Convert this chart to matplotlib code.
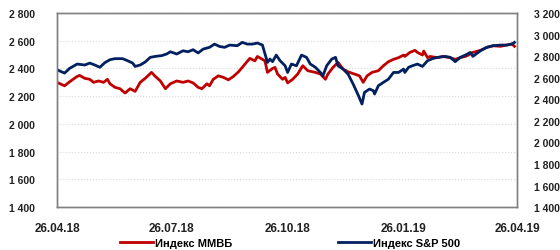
import matplotlib
matplotlib.use("Agg")
import matplotlib.pyplot as plt
import matplotlib.dates as mdates
import numpy as np
import pandas as pd

plt.rcParams['font.family'] = ['Liberation Sans', 'DejaVu Sans']

# days since 26.04.18 and index values
start = pd.Timestamp('2018-04-26')

mmvb_days = [0, 6, 10, 16, 18, 22, 26, 29, 33, 37, 40, 42, 46, 50, 54, 58, 62, 66, 70, 75,
             78, 82, 86, 90, 95, 100, 104, 108, 112, 115, 119, 121, 124, 128, 132, 136, 140,
             144, 147, 149, 153, 157, 159, 163, 165, 167, 171, 173, 175, 179, 181, 183, 187,
             191, 195, 199, 205, 209, 213, 215, 219, 223, 227, 231, 236, 240, 243, 246, 250,
             255, 259, 263, 267, 271, 275, 276, 280, 284, 286, 290, 291, 294, 296, 302, 306,
             312, 316, 320, 325, 330, 336, 341, 346, 352, 357, 361, 363]
mmvb = [2300, 2275, 2304, 2343, 2350, 2329, 2322, 2300, 2310, 2300, 2322, 2290, 2264, 2254,
        2223, 2254, 2235, 2300, 2329, 2372, 2343, 2310, 2254, 2290, 2310, 2300, 2310, 2296,
        2264, 2254, 2290, 2275, 2322, 2347, 2336, 2318, 2343, 2376, 2408, 2430, 2473, 2455,
        2487, 2466, 2455, 2372, 2400, 2408, 2360, 2322, 2336, 2296, 2322, 2360, 2420, 2384,
        2372, 2360, 2322, 2360, 2408, 2444, 2396, 2376, 2360, 2347, 2300, 2347, 2372, 2384,
        2420, 2449, 2466, 2478, 2497, 2487, 2516, 2531, 2516, 2497, 2526, 2478, 2487, 2478,
        2487, 2478, 2466, 2478, 2490, 2516, 2531, 2552, 2564, 2560, 2570, 2577, 2560]

spx_days = [0, 6, 10, 16, 22, 26, 30, 34, 38, 42, 46, 52, 56, 60, 62, 66, 70, 74, 78, 83, 87,
            90, 95, 100, 104, 108, 112, 116, 121, 125, 129, 133, 137, 143, 147, 151, 155, 159,
            163, 167, 169, 171, 174, 177, 181, 183, 186, 190, 194, 198, 201, 205, 209, 211,
            214, 218, 221, 223, 227, 231, 235, 239, 242, 244, 248, 251, 252, 255, 259, 263,
            267, 271, 275, 276, 279, 282, 286, 290, 294, 298, 302, 308, 312, 316, 320, 324,
            328, 330, 336, 341, 346, 352, 357, 361, 363]
spx = [2674, 2643, 2687, 2727, 2718, 2736, 2718, 2697, 2740, 2767, 2777, 2777, 2758, 2736,
       2705, 2718, 2746, 2789, 2798, 2805, 2820, 2841, 2820, 2850, 2841, 2860, 2830, 2866,
       2882, 2912, 2890, 2882, 2903, 2897, 2928, 2912, 2912, 2922, 2903, 2742, 2773, 2749,
       2810, 2758, 2711, 2649, 2727, 2711, 2810, 2789, 2727, 2697, 2649, 2618, 2711, 2773,
       2789, 2711, 2680, 2633, 2541, 2439, 2356, 2464, 2495, 2480, 2449, 2526, 2557, 2587,
       2649, 2649, 2680, 2649, 2697, 2711, 2727, 2705, 2758, 2777, 2789, 2798, 2789, 2749,
       2789, 2810, 2835, 2798, 2850, 2882, 2897, 2903, 2903, 2912, 2928]

left_ticks = np.arange(1400, 2801, 200)
right_ticks = np.arange(1400, 3201, 200)
date_ticks = ['2018-04-26', '2018-07-26', '2018-10-26', '2019-01-26', '2019-04-26']

red = '#C00000'
blue = '#002060'

def fmt(v, pos=None):
    return '{:,}'.format(int(v)).replace(',', ' ')

mmvb_x = start + pd.to_timedelta(mmvb_days, unit='D')
spx_x = start + pd.to_timedelta(spx_days, unit='D')

fig = plt.figure(figsize=(5.6, 2.51), dpi=100)
ax = fig.add_axes([0.1018, 0.171, 0.8214, 0.773])
ax2 = ax.twinx()

l1, = ax.plot(mmvb_x, mmvb, color=red, lw=2.0, label='Индекс ММВБ')
l2, = ax2.plot(spx_x, spx, color=blue, lw=2.0, label='Индекс S&P 500')

ax.set_ylim(1400, 2800)
ax2.set_ylim(1400, 3200)
ax.set_yticks(left_ticks)
ax2.set_yticks(right_ticks)
ax.yaxis.set_major_formatter(plt.FuncFormatter(fmt))
ax2.yaxis.set_major_formatter(plt.FuncFormatter(fmt))

ax.set_xlim(pd.Timestamp(date_ticks[0]), pd.Timestamp(date_ticks[-1]))
ax.set_xticks(pd.to_datetime(date_ticks))
ax.xaxis.set_major_formatter(mdates.DateFormatter('%d.%m.%y'))

ax.grid(axis='y', color='#d9d9d9', ls=':', lw=0.8)
ax.set_axisbelow(True)

for a in (ax, ax2):
    for s in a.spines.values():
        s.set_color('#808080')
        s.set_linewidth(1.0)
    a.tick_params(length=0, labelsize=7.5)
    for t in a.get_yticklabels() + a.get_xticklabels():
        t.set_fontweight('bold')
        t.set_color('#222222')

ax.tick_params(axis='y', pad=16)
ax2.tick_params(axis='y', pad=12)
ax.tick_params(axis='x', pad=11, labelsize=8.5)

fig.legend(handles=[l1, l2], loc='center', ncol=2, frameon=False,
           bbox_to_anchor=(0.518, 0.027), prop={'weight': 'bold', 'size': 8},
           handlelength=3.0, handletextpad=0.2, columnspacing=9.5, borderpad=0)

fig.savefig('out.png', dpi=100)
